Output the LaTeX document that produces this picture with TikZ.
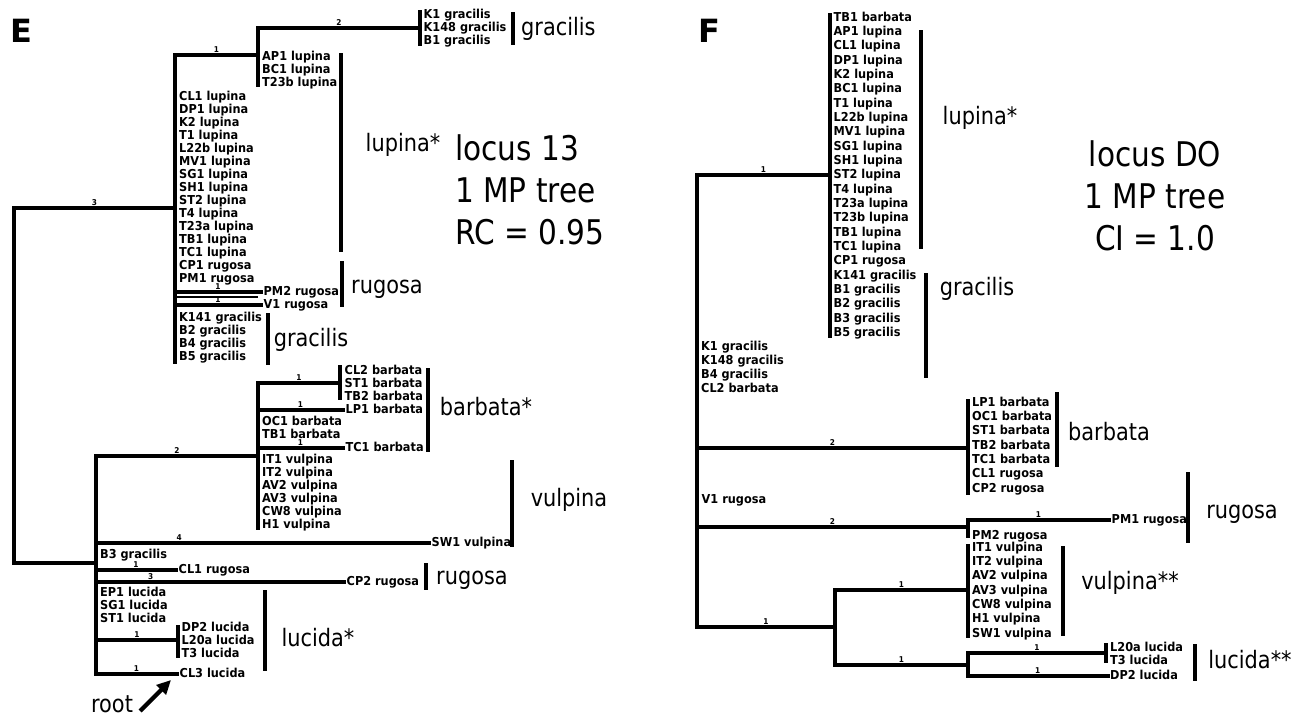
\documentclass[tikz,border=0pt]{standalone}
\usepackage{fontspec}
\setmainfont{DejaVu Sans}
\newfontfamily\leaffont[FakeStretch=0.92]{DejaVu Sans}
\newfontfamily\cladefont[FakeStretch=0.87]{DejaVu Sans}
\usetikzlibrary{arrows.meta}
\newcommand{\leafcol}[5]{%
  \foreach \lbl [count=\idx from 0] in {#5}
    \node[leaf] (#1\idx) at (#2,{#3+#4*\idx}) {\lbl};}
\tikzset{
  br/.style   ={line width=4.2pt, line cap=rect, line join=miter},
  hair/.style ={line width=1.2pt},
  bar/.style  ={line width=4.2pt},
  % taxon names and branch lengths
  leaf/.style ={anchor=west, inner xsep=2.5pt, inner ysep=0pt,
                font=\leaffont\bfseries\fontsize{12.3}{13}\selectfont,
                text height=9pt, text depth=2.4pt},
  blen/.style ={font=\leaffont\bfseries\fontsize{8}{8}\selectfont,
                inner sep=0.4pt, above},
  clade/.style={font=\cladefont\fontsize{24}{24}\selectfont, inner sep=0pt},
  stat/.style ={font=\cladefont\fontsize{34}{42}\selectfont, inner sep=0pt},
  panel/.style={font=\bfseries\fontsize{32}{32}\selectfont, inner sep=0pt},
}
\begin{document}
\begin{tikzpicture}[x=1pt,y=-1pt]
  \useasboundingbox (0,0) rectangle (1302,721);

  % E: locus 13
  \node[panel] (eTag) at (21,31) {E};
  \coordinate (eRoot) at (14,385);
  \coordinate (eA)  at (175,208);
  \coordinate (eAt) at (175,55);
  \coordinate (eAb) at (175,362);
  \coordinate (eBt) at (258,28);
  \coordinate (eBb) at (258,85);
  \coordinate (eC)  at (420,28);
  \coordinate (eD)  at (96,563);
  \coordinate (eDt) at (96,456);
  \coordinate (eDb) at (96,674);
  \coordinate (eEt) at (258,383);
  \coordinate (eEb) at (258,528);
  \coordinate (eF)  at (340,383);
  \coordinate (eG)  at (178,640);

  \leafcol{eK}{421}{15}{13}{K1 gracilis, K148 gracilis, B1 gracilis}
  \leafcol{eAP}{259.5}{57}{13}{AP1 lupina, BC1 lupina, T23b lupina}
  \leafcol{eLup}{176.5}{97}{13}{CL1 lupina, DP1 lupina, K2 lupina,
    T1 lupina, L22b lupina, MV1 lupina, SG1 lupina, SH1 lupina,
    ST2 lupina, T4 lupina, T23a lupina, TB1 lupina, TC1 lupina,
    CP1 rugosa, PM1 rugosa}
  \node[leaf] (ePM2) at (261,292) {PM2 rugosa};
  \node[leaf] (eV1)  at (261,305) {V1 rugosa};
  \leafcol{eGra}{176.5}{318}{13}{K141 gracilis, B2 gracilis, B4 gracilis,
    B5 gracilis}
  \leafcol{eBar}{342}{371}{13}{CL2 barbata, ST1 barbata, TB2 barbata}
  \node[leaf] (eLP1) at (343,410) {LP1 barbata};
  \leafcol{eOC}{259.5}{422}{13}{OC1 barbata, TB1 barbata}
  \node[leaf] (eTC1) at (343,448) {TC1 barbata};
  \leafcol{eVul}{259.5}{460}{13}{IT1 vulpina, IT2 vulpina, AV2 vulpina,
    AV3 vulpina, CW8 vulpina, H1 vulpina}
  \node[leaf] (eSW1) at (429,543) {SW1 vulpina};
  \node[leaf] (eB3)  at (97.5,555) {B3 gracilis};
  \node[leaf] (eCL1) at (176,570) {CL1 rugosa};
  \node[leaf] (eCP2) at (344,582) {CP2 rugosa};
  \leafcol{eEP}{97.5}{593}{13}{EP1 lucida, SG1 lucida, ST1 lucida}
  \leafcol{eDP}{179}{628}{13}{DP2 lucida, L20a lucida, T3 lucida}
  \node[leaf] (eCL3) at (177,674) {CL3 lucida};

  \draw[br] (eA) -| node[blen, pos=0.25] {3} (eRoot) |- (eD);
  \draw[br] (eAt) -- (eAb);
  \draw[br] (eAt) -- node[blen] {1} (eAt -| eBt);
  \draw[br] (eBt) -- (eBb);
  \draw[br] (eBt) -- node[blen] {2} (eC);
  \draw[br] (eC) ++(0,-16) -- ++(0,32);
  \draw[br] (eAt |- ePM2) -- node[blen] {1} (ePM2.west);
  \draw[hair] (175,297) -- (258,297);
  \node[blen, anchor=center] (eV1len) at (218,300) {1};
  \draw[br] (eAt |- eV1) -- (eV1.west);

  \draw[br] (eDt) -- (eDb);
  \draw[br] (eDt) -- node[blen] {2} (eDt -| eEt);
  \draw[br] (eEt) -- (eEb);
  \draw[br] (eEt) -- node[blen] {1} (eF);
  \draw[br] (eF) ++(0,-16) -- ++(0,31);
  \draw[br] (eEt |- eLP1) -- node[blen] {1} (eLP1.west);
  \draw[br] (eEt |- eTC1) -- node[blen] {1} (eTC1.west);
  \draw[br] (eDt |- eSW1) -- node[blen, pos=0.25] {4} (eSW1.west);
  \draw[br] (eDt |- eCL1) -- node[blen] {1} (eCL1.west);
  \draw[br] (eDt |- eCP2) -- node[blen, pos=0.22] {3} (eCP2.west);
  \draw[br] (eDt |- eG) -- node[blen] {1} (eG);
  \draw[br] (eG) ++(0,-13) -- ++(0,29);
  \draw[br] (eDt |- eCL3) -- node[blen] {1} (eCL3.west);

  \draw[bar] (513,12) -- (513,45);
  \node[clade, anchor=west] (eGraTop) at (521,29) {gracilis};
  \draw[bar] (341,53) -- (341,252);
  \node[clade] (eLupG) at (403,145) {lupina*};
  \draw[bar] (342,261) -- (342,307);
  \node[clade] (eRugG) at (387,289) {rugosa};
  \draw[bar] (268,313) -- (268,365);
  \node[clade] (eGraG) at (311,340) {gracilis};
  \draw[bar] (428,368) -- (428,452);
  \node[clade] (eBarG) at (486,407) {barbata*};
  \draw[bar] (512,460) -- (512,547);
  \node[clade] (eVulG) at (569,500) {vulpina};
  \draw[bar] (426,563) -- (426,590);
  \node[clade] (eRugG2) at (472,580) {rugosa};
  \draw[bar] (265,590) -- (265,671);
  \node[clade] (eLucG) at (318,638) {lucida*};

  \node[stat, align=left, anchor=west] (eStat) at (455,190)
    {locus 13\\1 MP tree\\RC = 0.95};

  \node[clade] (eRootLbl) at (112,704) {root};
  \coordinate (eArrTip) at (171,680);
  \draw[-{Triangle[length=14pt,width=13pt]}, line width=4.2pt]
    ([xshift=7pt,yshift=-7pt]eRootLbl.east) -- (eArrTip);

  % F: locus DO
  \node[panel] (fTag) at (709,31) {F};
  \coordinate (fRt) at (697,175);
  \coordinate (fRb) at (697,627);
  \coordinate (fA)  at (830,175);
  \coordinate (fAt) at (830,15);
  \coordinate (fAb) at (830,336);
  \coordinate (fB)  at (968,448);
  \coordinate (fBt) at (968,401);
  \coordinate (fBb) at (968,493);
  \coordinate (fC)  at (968,527);
  \coordinate (fD)  at (835,627);
  \coordinate (fE)  at (968,590);
  \coordinate (fF)  at (968,665);
  \coordinate (fG)  at (1106,653);

  \leafcol{fLup}{831}{18}{14.33}{TB1 barbata, AP1 lupina, CL1 lupina,
    DP1 lupina, K2 lupina, BC1 lupina, T1 lupina, L22b lupina, MV1 lupina,
    SG1 lupina, SH1 lupina, ST2 lupina, T4 lupina, T23a lupina,
    T23b lupina, TB1 lupina, TC1 lupina, CP1 rugosa, K141 gracilis,
    B1 gracilis, B2 gracilis, B3 gracilis, B5 gracilis}
  \leafcol{fK}{698.5}{347}{14}{K1 gracilis, K148 gracilis, B4 gracilis,
    CL2 barbata}
  \leafcol{fBar}{969.5}{403}{14.33}{LP1 barbata, OC1 barbata, ST1 barbata,
    TB2 barbata, TC1 barbata, CL1 rugosa, CP2 rugosa}
  \node[leaf] (fV1)  at (699,500) {V1 rugosa};
  \node[leaf] (fPM1) at (1109,520) {PM1 rugosa};
  \node[leaf] (fPM2) at (969.5,536) {PM2 rugosa};
  \leafcol{fVul}{969.5}{548}{14.33}{IT1 vulpina, IT2 vulpina, AV2 vulpina,
    AV3 vulpina, CW8 vulpina, H1 vulpina, SW1 vulpina}
  \leafcol{fLuc}{1107.5}{648}{13}{L20a lucida, T3 lucida}
  \node[leaf] (fDP2) at (1107.5,676) {DP2 lucida};

  \draw[br] (fRt) -- (fRb);
  \draw[br] (fRt) -- node[blen] {1} (fA);
  \draw[br] (fAt) -- (fAb);
  \draw[br] (fRt |- fB) -- node[blen] {2} (fB);
  \draw[br] (fBt) -- (fBb);
  \draw[br] (fRt |- fC) -- node[blen] {2} (fC);
  \draw[br] (fC |- fPM1) -- (fC |- fPM2);
  \draw[br] (fC |- fPM1) -- node[blen] {1} (fPM1.west);
  \draw[br] (fRb) -- node[blen] {1} (fD);
  \draw[br] (fD |- fE) -- (fD |- fF);
  \draw[br] (fD |- fE) -- node[blen] {1} (fE);
  \draw[br] (968,546) -- (968,636);
  \draw[br] (fD |- fF) -- node[blen] {1} (fF);
  \draw[br] (fF |- fG) -- (fF |- fDP2);
  \draw[br] (fF |- fG) -- node[blen] {1} (fG);
  \draw[br] (fG) ++(0,-8) -- ++(0,16);
  \draw[br] (fF |- fDP2) -- node[blen] {1} (fDP2.west);

  \draw[bar] (921,30) -- (921,249);
  \node[clade] (fLupG) at (980,118) {lupina*};
  \draw[bar] (926,273) -- (926,378);
  \node[clade] (fGraG) at (977,289) {gracilis};
  \draw[bar] (1057,392) -- (1057,467);
  \node[clade] (fBarG) at (1109,432) {barbata};
  \draw[bar] (1188,472) -- (1188,543);
  \node[clade] (fRugG) at (1242,514) {rugosa};
  \draw[bar] (1063,546) -- (1063,636);
  \node[clade] (fVulG) at (1130,583) {vulpina**};
  \draw[bar] (1195,644) -- (1195,681);
  \node[clade] (fLucG) at (1250,660) {lucida**};

  \node[stat, align=center] (fStat) at (1155,196)
    {locus DO\\1 MP tree\\CI = 1.0};
\end{tikzpicture}
\end{document}
